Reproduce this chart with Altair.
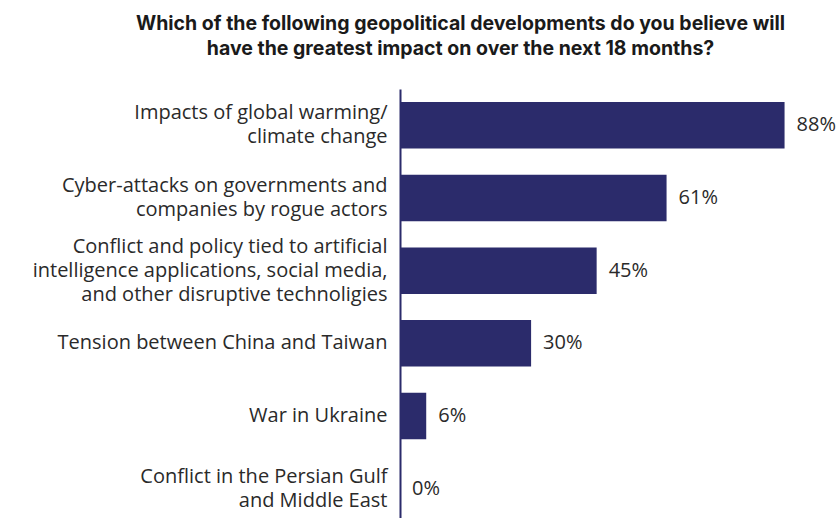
import altair as alt
import pandas as pd

categories = [
    "Impacts of global warming/|climate change",
    "Cyber-attacks on governments and|companies by rogue actors",
    "Conflict and policy tied to artificial|intelligence applications, social media,|and other disruptive technoligies",
    "Tension between China and Taiwan",
    "War in Ukraine",
    "Conflict in the Persian Gulf|and Middle East",
]
values = [88, 61, 45, 30, 6, 0]
value_labels = ["88%", "61%", "45%", "30%", "6%", "0%"]

df = pd.DataFrame({"cat": categories, "val": values, "lab": value_labels})

NAVY = "#2b2b6b"
FONT = "Open Sans"
LH = 24

y_enc = alt.Y(
    "cat:N",
    sort=categories,
    scale=alt.Scale(paddingInner=0.36, paddingOuter=0.18),
    axis=alt.Axis(
        title=None,
        ticks=False,
        domain=True,
        domainColor=NAVY,
        domainWidth=2,
        labelExpr="split(datum.label, '|')",
        labelFont=FONT,
        labelFontSize=20,
        labelColor="#2a2a2a",
        labelLineHeight=LH,
        labelPadding=13,
        labelLimit=400,
        labelOffset={
            "condition": [
                {"test": "length(split(datum.label, '|')) == 3", "value": -LH},
                {"test": "length(split(datum.label, '|')) == 2", "value": -LH / 2},
            ],
            "value": 0,
        },
    ),
)

x_enc = alt.X("val:Q", scale=alt.Scale(domain=[0, 100]), axis=None)

bars = alt.Chart(df).mark_bar(color=NAVY).encode(x=x_enc, y=y_enc)
text = alt.Chart(df).mark_text(
    align="left", baseline="middle", dx=12, font=FONT, fontSize=20, color="#2a2a2a"
).encode(x=x_enc, y=y_enc, text="lab:N")

chart = (
    alt.layer(bars, text)
    .properties(
        width=437,
        height=436,
        autosize=alt.AutoSizeParams(type="none"),
        padding={"left": 400, "top": 89, "right": 3, "bottom": 0},
        title=alt.TitleParams(
            text=[
                "Which of the following geopolitical developments do you believe will",
                "have the greatest impact on over the next 18 months?",
            ],
            font="Inter",
            fontSize=19.5,
            fontWeight="bold",
            color="#1a1a1a",
            anchor="middle",
            dx=-158,
            offset=30,
            lineHeight=25,
        ),
    )
    .configure_view(stroke=None)
)

chart.save("out.html", embed_options={"renderer": "svg", "actions": False})
